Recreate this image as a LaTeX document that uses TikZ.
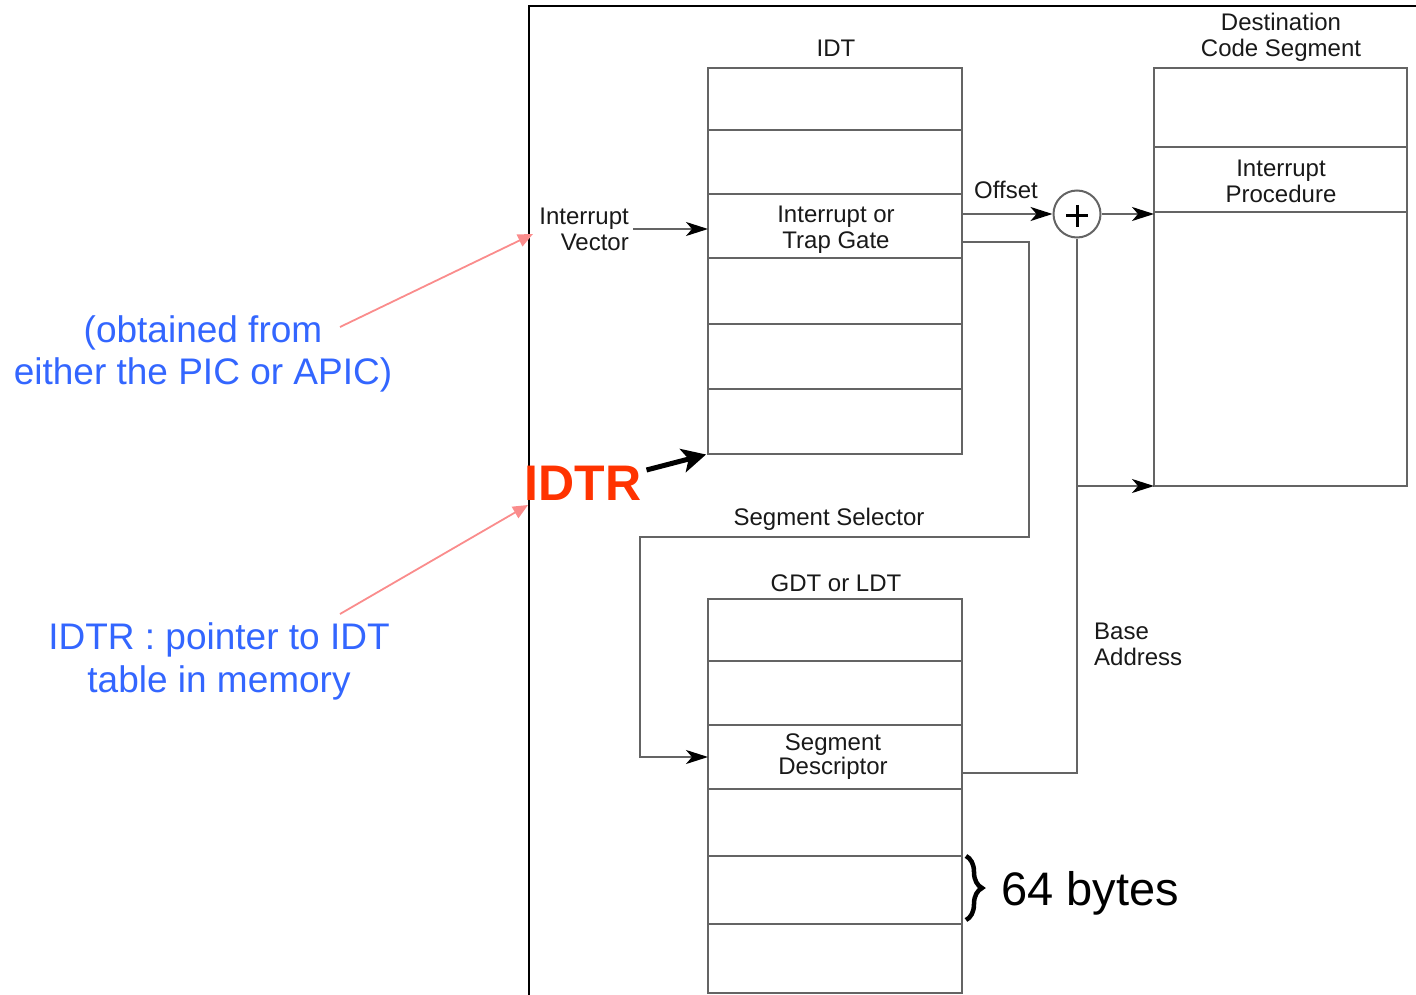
\documentclass[tikz,border=0pt]{standalone}
\usepackage{fontspec}
\setmainfont{Liberation Sans}
\usetikzlibrary{arrows.meta,decorations.pathreplacing}
\definecolor{linegray}{RGB}{100,100,100}
\definecolor{labelink}{RGB}{25,25,25}
\definecolor{noteblue}{RGB}{51,102,255}
\definecolor{notepink}{RGB}{250,140,140}
\definecolor{idtrred}{RGB}{255,51,0}
\begin{document}
\begin{tikzpicture}[x=1pt,y=-1pt,
  row/.style={draw=linegray, line width=2pt, minimum width=254pt, inner sep=0pt, outer sep=0pt},
  lbl/.style={font=\fontsize{24}{26}\selectfont, text=labelink, align=center, inner sep=0pt},
  wire/.style={draw=linegray, line width=2pt},
  feed/.style={wire, -{Stealth[length=22pt,width=14pt,inset=6pt,black]}},
  note/.style={font=\fontsize{37}{42}\selectfont, text=noteblue, inner sep=0pt},
  hint/.style={draw=notepink, line width=1.8pt, -{Triangle[length=15pt,width=13pt]}},
]
\useasboundingbox (0,0) rectangle (1416,995);

% outer frame
\draw[black, line width=2pt] (529,1000) -- (529,6) -- (1420,6);

% IDT
\node[lbl] (idtlbl) at (836,48) {IDT};
\node[row, minimum height=62pt] (idt1) at (835,99) {};
\node[row, minimum height=64pt] (idt2) at (835,162) {};
\node[row, minimum height=64pt] (idt3) at (835,226) {};
\node[lbl] (gatetxt) at (836,230) {Interrupt or\\Trap Gate};
\node[row, minimum height=66pt] (idt4) at (835,291) {};
\node[row, minimum height=65pt] (idt5) at (835,356.5) {};
\node[row, minimum height=65pt] (idt6) at (835,421.5) {};

% Destination code segment
\node[lbl] (dcslbl) at (1281,37) {Destination\\Code Segment};
\node[row, minimum width=253pt, minimum height=79pt] (dcs1) at (1280.5,107.5) {};
\node[row, minimum width=253pt, minimum height=65pt] (dcs2) at (1280.5,179.5) {};
\node[lbl] (proctxt) at (1281,181) {Interrupt\\Procedure};
\node[row, minimum width=253pt, minimum height=274pt] (dcs3) at (1280.5,349) {};

% GDT / LDT
\node[lbl] (gdtlbl) at (836,583) {GDT or LDT};
\node[row, minimum height=62pt] (gdt1) at (835,630) {};
\node[row, minimum height=64pt] (gdt2) at (835,693) {};
\node[row, minimum height=64pt] (gdt3) at (835,757) {};
\node[lbl, font=\fontsize{24}{24}\selectfont] (desctxt) at (833,757) {Segment\\Descriptor};
\node[row, minimum height=67pt] (gdt4) at (835,822.5) {};
\node[row, minimum height=68pt] (gdt5) at (835,890) {};
\node[row, minimum height=69pt] (gdt6) at (835,958.5) {};

% interrupt vector input
\node[lbl, align=right, anchor=east] (vec) at (629,229) {Interrupt\\Vector};
\draw[feed, shorten <=4pt] (vec.east) -- (vec.east -| idt3.west);

% adder
\node[draw=linegray, line width=2pt, circle, minimum size=47pt, inner sep=0pt,
  path picture={\draw[black, line width=3pt]
    ([shift={(-11pt,-2pt)}]path picture bounding box.center) -- ++(22pt,0)
    ([shift={(0pt,9pt)}]path picture bounding box.center) -- ++(0,-22pt);}] (plus) at (1077,214) {};
\draw[feed] (plus.west -| idt3.east) -- (plus.west);
\node[lbl] (offlbl) at (1006,190) {Offset};
\draw[feed] (plus.east) -- (plus.east -| dcs2.west);

% segment selector path
\coordinate (selR) at (1029,537);
\coordinate (selL) at (640,537);
\draw[feed] ([yshift=-16pt]idt3.east) -| (selR) -- (selL) |- (gdt3.west);
\node[lbl] (sellbl) at (829,519) {Segment Selector};

% base address path
\draw[wire] ([yshift=-16pt]gdt3.east) -| (plus.south);
\coordinate (tap) at (plus.south |- dcs3.south);
\draw[feed] (tap) -- (dcs3.south west);
\node[lbl, align=left, anchor=west] (baselbl) at (1094,644) {Base\\Address};

% IDTR
\node[font=\fontsize{50}{50}\selectfont\bfseries, text=idtrred, inner sep=0pt] (idtr) at (583,483) {IDTR};
\draw[black, line width=5pt, shorten >=2pt, -{Stealth[length=24pt,width=24pt,inset=6pt]}] ([xshift=5pt,yshift=13pt]idtr.east) -- (idt6.south west);

% descriptor size
\draw[decorate, decoration={brace, amplitude=16pt}, line width=4.5pt] ([xshift=4pt]gdt5.north east) -- ([xshift=4pt,yshift=4pt]gdt5.south east);
\node[font=\fontsize{47}{47}\selectfont, anchor=west, inner sep=0pt] (bytes) at (1001,893) {64 bytes};

% annotations
\node[note] (noteA1) at (203,333) {(obtained from};
\node[note] (noteA2) at (203,375) {either the PIC or APIC)};
\node[note] (noteB1) at (219,640) {IDTR : pointer to IDT};
\node[note] (noteB2) at (219,683) {table in memory};
\coordinate (sA) at (340,327);
\coordinate (vtip) at (533,234);
\coordinate (sB) at (340,614);
\coordinate (itip) at (528,505);
\draw[hint] (sA) -- (vtip);
\draw[hint] (sB) -- (itip);
\end{tikzpicture}
\end{document}
